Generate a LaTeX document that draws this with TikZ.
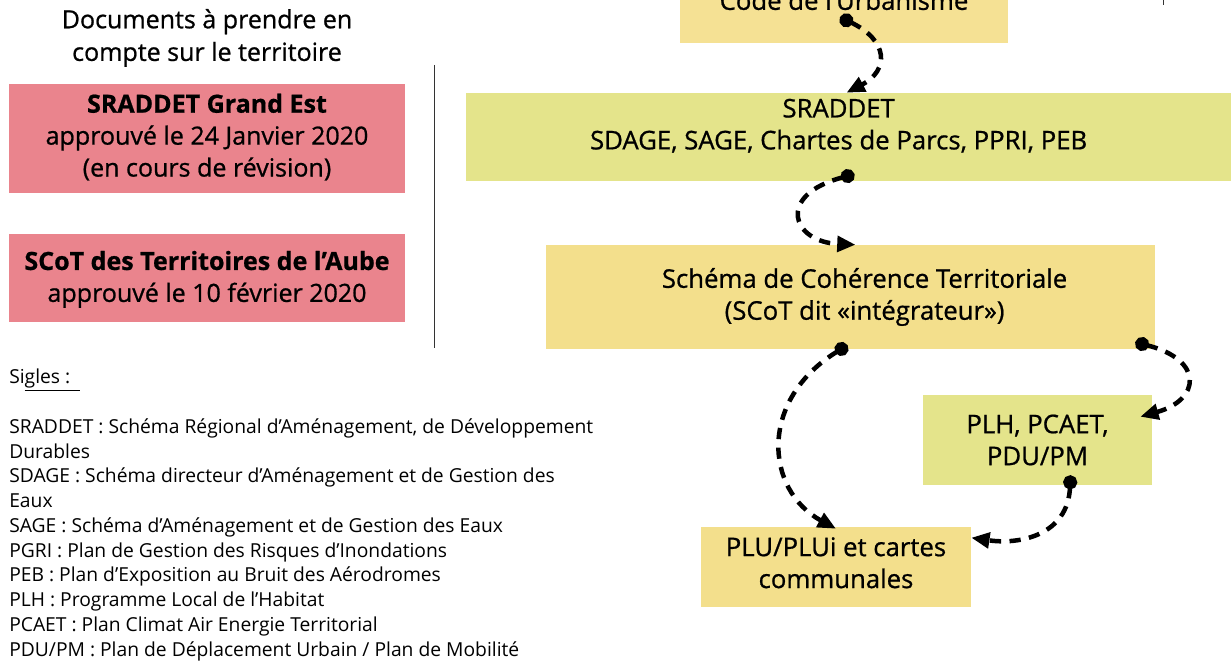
\documentclass[tikz,border=0pt]{standalone}
\usepackage{fontspec}
\setmainfont{Open Sans}
\newfontfamily\mediumfont{Open Sans}[FakeBold=0.8]
\usetikzlibrary{arrows.meta,calc,fit,positioning}
\definecolor{codeYellow}{HTML}{F5E194}
\definecolor{lawGreen}{HTML}{E4E48B}
\definecolor{planYellow}{HTML}{F3DF8C}
\definecolor{docPink}{HTML}{EA848D}
\tikzset{
	box/.style={inner sep=0pt},
	boxText/.style={inner sep=0pt, align=center, font=\mediumfont\fontsize{18.3}{22.7}\selectfont},
	docText/.style={boxText, font=\mediumfont\fontsize{17.8}{22.7}\selectfont},
	% Liens de compatibilite -------------------------------------
	link/.style={line width=3.2pt, dash pattern=on 8pt off 6pt,
		{Circle[length=10pt]}-{Triangle[length=13pt,width=11pt]}},
}

\begin{document}
\begin{tikzpicture}[x=0.025cm,y=-0.025cm]
				\useasboundingbox (0,0) rectangle (1231,662);
				\clip (0,0) rectangle (1231,662);
				% documents du territoire
				\node[docText, font=\mediumfont\fontsize{17.8}{23.2}\selectfont] (title) at (207,38) {Documents à prendre en\\compte sur le territoire};
				\node[box, fill=docPink, fit={(9,84) (405,193)}, label={[docText, yshift=1pt]center:{\textbf{SRADDET Grand Est}\\approuvé le 24 Janvier 2020\\(en cours de révision)}}] (sraddetGE) {};
				\node[box, fill=docPink, fit={(9,234) (405,322)}, label={[docText, yshift=-1pt]center:{\textbf{SCoT des Territoires de l’Aube}\\approuvé le 10 février 2020}}] (scotAube) {};
				\draw[black!80, line width=0.6pt] (434,65) -- (434,348);
				% hierarchie des documents
				\node[box, fill=codeYellow, fit={(680,-37) (1008,43)}, label={[boxText, yshift=2pt]center:Code de l’Urbanisme}] (code) {};
				\node[box, fill=lawGreen, fit={(466,93) (1231,181)}, label={[boxText, xshift=-7pt, yshift=8pt]center:{SRADDET\\SDAGE, SAGE, Chartes de Parcs, PPRI, PEB}}] (srad) {};
				\node[box, fill=planYellow, fit={(546,245) (1155,349)}, label={[boxText, xshift=10pt]center:{Schéma de Cohérence Territoriale\\(SCoT dit «intégrateur»)}}] (scot) {};
				\node[box, fill=lawGreen, fit={(923,395) (1152,485)}, label={[boxText]center:{PLH, PCAET,\\PDU/PM}}] (plh) {};
				\node[box, fill=planYellow, fit={(701,527) (971,607)}, label={[boxText, yshift=3pt]center:{PLU/PLUi et cartes\\communales}}] (plu) {};
				\draw[black!80, line width=0.6pt] (1163,-5) -- (1163,5);
				% liens
				\draw[link] ($(code.south)+(-4,-26)$) .. controls (888,40) and (890,70) .. ($(srad.north)+(-2,0)$);
				\draw[link] ($(srad.south)+(6,-7)$) .. controls (775,195) and (792,242) .. ($(scot.north)+(5,0)$);
				\draw[link] ($(scot.south)+(-3,-4)$) .. controls (758,400) and (765,490) .. ($(plu.north)+(0,2)$);
				\draw[link] ($(scot.south east)+(-20,-7)$) .. controls (1205,360) and (1200,400) .. ($(plh.north east)+(-12,22)$);
				\draw[link] ($(plh.south)+(33,-10)$) .. controls (1068,535) and (1020,545) .. ($(plu.north east)+(0,11)$);
				% sigles
				\node[anchor=north west, align=left, inner sep=0pt, font=\fontsize{13.7}{17.6}\selectfont] (sigles) at (9,369) {Si\underline{gles :\ \ }\\[17.6pt]
					SRADDET : Schéma Régional d’Aménagement, de Développement\\
					Durables\\
					SDAGE : Schéma directeur d’Aménagement et de Gestion des\\
					Eaux\\
					SAGE : Schéma d’Aménagement et de Gestion des Eaux\\
					PGRI : Plan de Gestion des Risques d’Inondations\\
					PEB : Plan d’Exposition au Bruit des Aérodromes\\
					PLH : Programme Local de l’Habitat\\
					PCAET : Plan Climat Air Energie Territorial\\
					PDU/PM : Plan de Déplacement Urbain / Plan de Mobilité};
\end{tikzpicture}
\end{document}
